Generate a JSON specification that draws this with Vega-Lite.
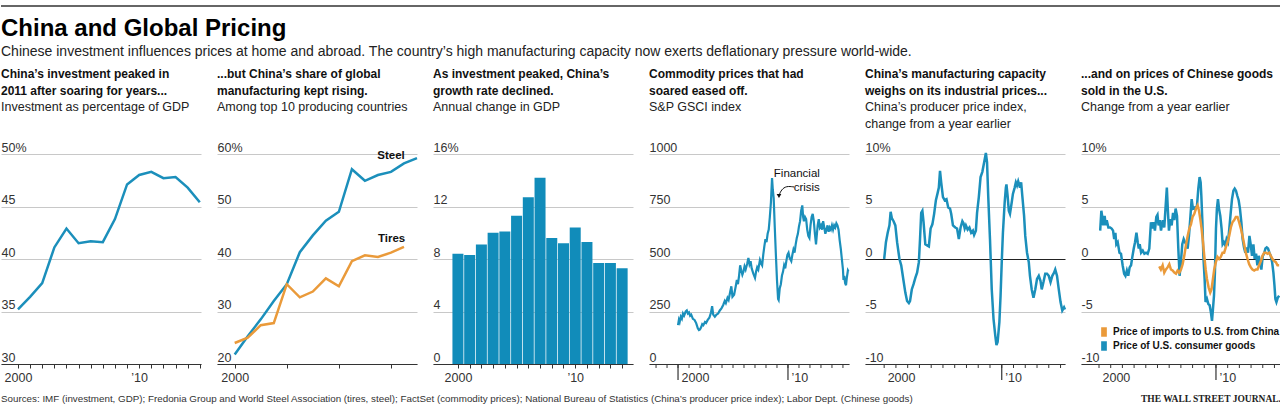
{
"$schema": "https://vega.github.io/schema/vega-lite/v6.json",
"padding": {"left": 0, "top": 5, "right": 0, "bottom": 0},
"background": "white",
"spacing": 8,
"config": {
  "font": "Liberation Sans, Arial, sans-serif",
  "view": {"stroke": null},
  "axis": {"labelFont": "Liberation Sans, Arial, sans-serif", "labelFontSize": 12.5, "labelColor": "#333", "title": null},
  "axisX": {"labelOverlap": false, "labelFlush": false},
  "title": {"anchor": "start", "frame": "group", "font": "Liberation Sans, Arial, sans-serif", "fontSize": 12, "fontWeight": "bold", "color": "#111", "lineHeight": 17, "subtitleFont": "Liberation Sans, Arial, sans-serif", "subtitleFontSize": 12.5, "subtitleColor": "#222", "subtitleLineHeight": 17, "subtitlePadding": 0, "offset": 10},
  "legend": {"labelFont": "Liberation Sans, Arial, sans-serif"}
},
"datasets": {
  "inv": [{"t":2000,"v":35.2},{"t":2001,"v":36.4},{"t":2002,"v":37.7},{"t":2003,"v":41.1},{"t":2004,"v":42.9},{"t":2005,"v":41.5},{"t":2006,"v":41.7},{"t":2007,"v":41.6},{"t":2008,"v":43.8},{"t":2009,"v":47.1},{"t":2010,"v":48.0},{"t":2011,"v":48.3},{"t":2012,"v":47.7},{"t":2013,"v":47.8},{"t":2014,"v":46.8},{"t":2015,"v":45.4}],
  "share": [
    {"t":2000,"v":21.8,"s":"Steel"},{"t":2001,"v":25.3,"s":"Steel"},{"t":2002,"v":28.5,"s":"Steel"},{"t":2003,"v":32.0,"s":"Steel"},{"t":2004,"v":35.2,"s":"Steel"},{"t":2005,"v":41.3,"s":"Steel"},{"t":2006,"v":44.5,"s":"Steel"},{"t":2007,"v":47.3,"s":"Steel"},{"t":2008,"v":49.0,"s":"Steel"},{"t":2009,"v":57.1,"s":"Steel"},{"t":2010,"v":54.9,"s":"Steel"},{"t":2011,"v":56.0,"s":"Steel"},{"t":2012,"v":56.6,"s":"Steel"},{"t":2013,"v":58.2,"s":"Steel"},{"t":2014,"v":59.2,"s":"Steel"},
    {"t":2000,"v":24.0,"s":"Tires"},{"t":2001,"v":25.0,"s":"Tires"},{"t":2002,"v":27.4,"s":"Tires"},{"t":2003,"v":27.8,"s":"Tires"},{"t":2004,"v":35.2,"s":"Tires"},{"t":2005,"v":32.7,"s":"Tires"},{"t":2006,"v":33.8,"s":"Tires"},{"t":2007,"v":36.3,"s":"Tires"},{"t":2008,"v":34.8,"s":"Tires"},{"t":2009,"v":39.6,"s":"Tires"},{"t":2010,"v":40.7,"s":"Tires"},{"t":2011,"v":40.4,"s":"Tires"},{"t":2012,"v":41.2,"s":"Tires"},{"t":2013,"v":42.3,"s":"Tires"}],
  "gdp": [{"t":2000,"v":8.4},{"t":2001,"v":8.3},{"t":2002,"v":9.1},{"t":2003,"v":10.0},{"t":2004,"v":10.1},{"t":2005,"v":11.3},{"t":2006,"v":12.7},{"t":2007,"v":14.2},{"t":2008,"v":9.6},{"t":2009,"v":9.2},{"t":2010,"v":10.4},{"t":2011,"v":9.3},{"t":2012,"v":7.7},{"t":2013,"v":7.7},{"t":2014,"v":7.3}],
  "gsci": [{"t":2000.00,"v":185},{"t":2000.08,"v":210},{"t":2000.15,"v":200},{"t":2000.25,"v":225},{"t":2000.35,"v":215},{"t":2000.45,"v":240},{"t":2000.55,"v":230},{"t":2000.70,"v":250},{"t":2000.80,"v":255},{"t":2000.90,"v":240},{"t":2001.00,"v":245},{"t":2001.10,"v":230},{"t":2001.20,"v":235},{"t":2001.35,"v":215},{"t":2001.50,"v":210},{"t":2001.65,"v":195},{"t":2001.80,"v":170},{"t":2001.90,"v":162},{"t":2002.00,"v":165},{"t":2002.10,"v":175},{"t":2002.20,"v":190},{"t":2002.30,"v":185},{"t":2002.45,"v":200},{"t":2002.55,"v":195},{"t":2002.70,"v":210},{"t":2002.85,"v":220},{"t":2003.00,"v":245},{"t":2003.10,"v":275},{"t":2003.20,"v":235},{"t":2003.35,"v":225},{"t":2003.50,"v":235},{"t":2003.65,"v":240},{"t":2003.80,"v":255},{"t":2003.95,"v":265},{"t":2004.10,"v":280},{"t":2004.25,"v":300},{"t":2004.35,"v":290},{"t":2004.50,"v":315},{"t":2004.60,"v":305},{"t":2004.75,"v":345},{"t":2004.85,"v":370},{"t":2004.95,"v":320},{"t":2005.10,"v":330},{"t":2005.25,"v":370},{"t":2005.35,"v":400},{"t":2005.45,"v":380},{"t":2005.55,"v":420},{"t":2005.65,"v":470},{"t":2005.75,"v":445},{"t":2005.85,"v":425},{"t":2005.95,"v":440},{"t":2006.05,"v":465},{"t":2006.15,"v":450},{"t":2006.30,"v":480},{"t":2006.40,"v":505},{"t":2006.50,"v":475},{"t":2006.60,"v":490},{"t":2006.70,"v":455},{"t":2006.85,"v":430},{"t":2007.00,"v":410},{"t":2007.10,"v":440},{"t":2007.20,"v":460},{"t":2007.30,"v":450},{"t":2007.45,"v":495},{"t":2007.55,"v":480},{"t":2007.65,"v":470},{"t":2007.75,"v":520},{"t":2007.85,"v":560},{"t":2007.95,"v":595},{"t":2008.05,"v":580},{"t":2008.15,"v":620},{"t":2008.25,"v":640},{"t":2008.35,"v":700},{"t":2008.45,"v":770},{"t":2008.55,"v":885},{"t":2008.62,"v":830},{"t":2008.70,"v":790},{"t":2008.80,"v":650},{"t":2008.90,"v":520},{"t":2009.00,"v":400},{"t":2009.10,"v":310},{"t":2009.15,"v":305},{"t":2009.25,"v":360},{"t":2009.35,"v":380},{"t":2009.45,"v":420},{"t":2009.55,"v":440},{"t":2009.65,"v":470},{"t":2009.75,"v":455},{"t":2009.85,"v":490},{"t":2009.95,"v":520},{"t":2010.05,"v":530},{"t":2010.15,"v":505},{"t":2010.30,"v":490},{"t":2010.40,"v":520},{"t":2010.50,"v":545},{"t":2010.60,"v":530},{"t":2010.70,"v":570},{"t":2010.80,"v":600},{"t":2010.90,"v":620},{"t":2011.00,"v":655},{"t":2011.10,"v":680},{"t":2011.20,"v":730},{"t":2011.30,"v":755},{"t":2011.38,"v":700},{"t":2011.45,"v":680},{"t":2011.55,"v":700},{"t":2011.65,"v":690},{"t":2011.75,"v":640},{"t":2011.85,"v":610},{"t":2011.95,"v":600},{"t":2012.05,"v":660},{"t":2012.15,"v":700},{"t":2012.25,"v":715},{"t":2012.35,"v":680},{"t":2012.45,"v":620},{"t":2012.55,"v":570},{"t":2012.60,"v":600},{"t":2012.70,"v":660},{"t":2012.80,"v":690},{"t":2012.90,"v":650},{"t":2013.00,"v":660},{"t":2013.10,"v":640},{"t":2013.20,"v":680},{"t":2013.30,"v":650},{"t":2013.40,"v":620},{"t":2013.50,"v":640},{"t":2013.60,"v":660},{"t":2013.70,"v":630},{"t":2013.80,"v":650},{"t":2013.90,"v":640},{"t":2014.00,"v":660},{"t":2014.10,"v":640},{"t":2014.20,"v":660},{"t":2014.30,"v":650},{"t":2014.40,"v":670},{"t":2014.50,"v":660},{"t":2014.60,"v":640},{"t":2014.70,"v":590},{"t":2014.80,"v":550},{"t":2014.90,"v":500},{"t":2015.00,"v":450},{"t":2015.05,"v":400},{"t":2015.12,"v":420},{"t":2015.20,"v":385},{"t":2015.28,"v":375},{"t":2015.35,"v":410},{"t":2015.45,"v":445},{"t":2015.50,"v":440}],
  "ppi": [{"t":2000.00,"v":0},{"t":2000.15,"v":1.6},{"t":2000.30,"v":2.5},{"t":2000.45,"v":3.2},{"t":2000.55,"v":4.5},{"t":2000.65,"v":3.9},{"t":2000.80,"v":3.6},{"t":2000.95,"v":3.2},{"t":2001.10,"v":1.6},{"t":2001.30,"v":0},{"t":2001.45,"v":-0.6},{"t":2001.65,"v":-2.1},{"t":2001.80,"v":-3.2},{"t":2001.95,"v":-4.0},{"t":2002.10,"v":-4.2},{"t":2002.20,"v":-4.0},{"t":2002.35,"v":-2.9},{"t":2002.50,"v":-2.4},{"t":2002.65,"v":-1.8},{"t":2002.80,"v":-1.3},{"t":2002.95,"v":-0.3},{"t":2003.05,"v":1.9},{"t":2003.15,"v":4.4},{"t":2003.25,"v":4.6},{"t":2003.35,"v":3.5},{"t":2003.50,"v":1.4},{"t":2003.65,"v":1.3},{"t":2003.80,"v":1.2},{"t":2003.95,"v":2.9},{"t":2004.10,"v":3.3},{"t":2004.25,"v":4.3},{"t":2004.40,"v":5.6},{"t":2004.55,"v":6.3},{"t":2004.65,"v":6.8},{"t":2004.75,"v":8.4},{"t":2004.85,"v":7.3},{"t":2005.00,"v":5.9},{"t":2005.15,"v":5.6},{"t":2005.30,"v":5.7},{"t":2005.45,"v":4.9},{"t":2005.60,"v":4.8},{"t":2005.70,"v":4.3},{"t":2005.85,"v":3.2},{"t":2006.05,"v":3.0},{"t":2006.20,"v":2.9},{"t":2006.35,"v":1.9},{"t":2006.50,"v":3.0},{"t":2006.65,"v":3.6},{"t":2006.75,"v":3.4},{"t":2006.85,"v":2.9},{"t":2006.95,"v":3.2},{"t":2007.10,"v":2.8},{"t":2007.25,"v":3.0},{"t":2007.40,"v":2.5},{"t":2007.55,"v":2.7},{"t":2007.65,"v":2.3},{"t":2007.80,"v":2.7},{"t":2007.90,"v":4.4},{"t":2008.05,"v":5.9},{"t":2008.20,"v":7.8},{"t":2008.35,"v":8.3},{"t":2008.50,"v":9.2},{"t":2008.65,"v":10.1},{"t":2008.75,"v":9.2},{"t":2008.85,"v":6.0},{"t":2009.00,"v":1.9},{"t":2009.15,"v":-2.9},{"t":2009.30,"v":-5.7},{"t":2009.45,"v":-7.3},{"t":2009.55,"v":-8.2},{"t":2009.65,"v":-7.9},{"t":2009.80,"v":-6.0},{"t":2009.90,"v":-3.5},{"t":2010.00,"v":-0.3},{"t":2010.10,"v":2.5},{"t":2010.25,"v":5.4},{"t":2010.35,"v":6.8},{"t":2010.40,"v":7.1},{"t":2010.50,"v":6.0},{"t":2010.60,"v":4.6},{"t":2010.70,"v":4.3},{"t":2010.85,"v":5.4},{"t":2010.95,"v":6.2},{"t":2011.10,"v":6.8},{"t":2011.20,"v":7.3},{"t":2011.30,"v":7.0},{"t":2011.40,"v":7.4},{"t":2011.55,"v":6.8},{"t":2011.65,"v":7.3},{"t":2011.75,"v":6.0},{"t":2011.90,"v":4.1},{"t":2012.00,"v":2.2},{"t":2012.15,"v":0.6},{"t":2012.30,"v":-0.3},{"t":2012.40,"v":-1.6},{"t":2012.55,"v":-2.9},{"t":2012.70,"v":-3.7},{"t":2012.85,"v":-2.9},{"t":2013.00,"v":-1.9},{"t":2013.15,"v":-1.6},{"t":2013.30,"v":-2.1},{"t":2013.40,"v":-2.9},{"t":2013.55,"v":-2.2},{"t":2013.70,"v":-1.4},{"t":2013.85,"v":-1.4},{"t":2014.00,"v":-1.6},{"t":2014.15,"v":-2.2},{"t":2014.30,"v":-1.6},{"t":2014.45,"v":-1.3},{"t":2014.55,"v":-1.0},{"t":2014.70,"v":-1.6},{"t":2014.85,"v":-2.9},{"t":2015.00,"v":-4.1},{"t":2015.15,"v":-4.9},{"t":2015.30,"v":-4.6},{"t":2015.38,"v":-4.8}],
  "cg": [
    {"t":2000.10,"v":2.7,"s":"b"},{"t":2000.20,"v":4.6,"s":"b"},{"t":2000.28,"v":4.0,"s":"b"},{"t":2000.36,"v":3.2,"s":"b"},{"t":2000.48,"v":4.1,"s":"b"},{"t":2000.58,"v":3.2,"s":"b"},{"t":2000.66,"v":3.7,"s":"b"},{"t":2000.80,"v":3.0,"s":"b"},{"t":2000.95,"v":3.0,"s":"b"},{"t":2001.08,"v":2.9,"s":"b"},{"t":2001.20,"v":2.7,"s":"b"},{"t":2001.30,"v":1.9,"s":"b"},{"t":2001.40,"v":2.5,"s":"b"},{"t":2001.48,"v":1.4,"s":"b"},{"t":2001.60,"v":1.6,"s":"b"},{"t":2001.75,"v":0.6,"s":"b"},{"t":2001.88,"v":0.5,"s":"b"},{"t":2002.02,"v":-0.6,"s":"b"},{"t":2002.15,"v":-1.4,"s":"b"},{"t":2002.26,"v":-1.6,"s":"b"},{"t":2002.38,"v":-1.1,"s":"b"},{"t":2002.50,"v":-1.6,"s":"b"},{"t":2002.62,"v":-0.8,"s":"b"},{"t":2002.74,"v":-0.6,"s":"b"},{"t":2002.85,"v":0.2,"s":"b"},{"t":2002.97,"v":1.0,"s":"b"},{"t":2003.08,"v":1.6,"s":"b"},{"t":2003.20,"v":2.5,"s":"b"},{"t":2003.31,"v":1.6,"s":"b"},{"t":2003.40,"v":1.0,"s":"b"},{"t":2003.48,"v":1.4,"s":"b"},{"t":2003.60,"v":0.6,"s":"b"},{"t":2003.74,"v":0.8,"s":"b"},{"t":2003.88,"v":0.5,"s":"b"},{"t":2004.02,"v":0.6,"s":"b"},{"t":2004.16,"v":0.5,"s":"b"},{"t":2004.30,"v":1.0,"s":"b"},{"t":2004.44,"v":3.5,"s":"b"},{"t":2004.55,"v":2.9,"s":"b"},{"t":2004.66,"v":3.5,"s":"b"},{"t":2004.78,"v":2.7,"s":"b"},{"t":2004.90,"v":4.0,"s":"b"},{"t":2005.00,"v":4.2,"s":"b"},{"t":2005.09,"v":3.2,"s":"b"},{"t":2005.20,"v":3.7,"s":"b"},{"t":2005.30,"v":2.7,"s":"b"},{"t":2005.38,"v":3.2,"s":"b"},{"t":2005.46,"v":3.7,"s":"b"},{"t":2005.58,"v":3.0,"s":"b"},{"t":2005.66,"v":4.4,"s":"b"},{"t":2005.80,"v":6.8,"s":"b"},{"t":2005.88,"v":4.8,"s":"b"},{"t":2005.98,"v":2.7,"s":"b"},{"t":2006.10,"v":3.8,"s":"b"},{"t":2006.21,"v":3.2,"s":"b"},{"t":2006.33,"v":4.4,"s":"b"},{"t":2006.44,"v":3.7,"s":"b"},{"t":2006.55,"v":4.8,"s":"b"},{"t":2006.67,"v":4.1,"s":"b"},{"t":2006.78,"v":1.0,"s":"b"},{"t":2006.89,"v":-1.6,"s":"b"},{"t":2007.00,"v":-0.3,"s":"b"},{"t":2007.12,"v":1.4,"s":"b"},{"t":2007.24,"v":1.9,"s":"b"},{"t":2007.35,"v":1.6,"s":"b"},{"t":2007.46,"v":1.4,"s":"b"},{"t":2007.58,"v":1.0,"s":"b"},{"t":2007.69,"v":2.2,"s":"b"},{"t":2007.80,"v":3.8,"s":"b"},{"t":2007.92,"v":5.7,"s":"b"},{"t":2008.03,"v":4.8,"s":"b"},{"t":2008.15,"v":4.9,"s":"b"},{"t":2008.26,"v":4.8,"s":"b"},{"t":2008.38,"v":5.1,"s":"b"},{"t":2008.49,"v":6.7,"s":"b"},{"t":2008.60,"v":7.8,"s":"b"},{"t":2008.69,"v":7.3,"s":"b"},{"t":2008.75,"v":6.0,"s":"b"},{"t":2008.84,"v":3.5,"s":"b"},{"t":2008.92,"v":0.3,"s":"b"},{"t":2009.03,"v":-1.9,"s":"b"},{"t":2009.11,"v":-4.1,"s":"b"},{"t":2009.23,"v":-3.8,"s":"b"},{"t":2009.35,"v":-4.3,"s":"b"},{"t":2009.46,"v":-4.4,"s":"b"},{"t":2009.57,"v":-5.1,"s":"b"},{"t":2009.66,"v":-5.9,"s":"b"},{"t":2009.74,"v":-4.8,"s":"b"},{"t":2009.83,"v":-3.5,"s":"b"},{"t":2009.91,"v":-1.3,"s":"b"},{"t":2010.00,"v":2.9,"s":"b"},{"t":2010.08,"v":4.8,"s":"b"},{"t":2010.17,"v":5.7,"s":"b"},{"t":2010.26,"v":4.8,"s":"b"},{"t":2010.37,"v":4.1,"s":"b"},{"t":2010.48,"v":2.9,"s":"b"},{"t":2010.57,"v":1.4,"s":"b"},{"t":2010.68,"v":1.6,"s":"b"},{"t":2010.80,"v":1.3,"s":"b"},{"t":2010.91,"v":1.9,"s":"b"},{"t":2011.03,"v":1.6,"s":"b"},{"t":2011.14,"v":2.9,"s":"b"},{"t":2011.26,"v":4.4,"s":"b"},{"t":2011.37,"v":5.7,"s":"b"},{"t":2011.49,"v":6.5,"s":"b"},{"t":2011.60,"v":6.7,"s":"b"},{"t":2011.71,"v":6.5,"s":"b"},{"t":2011.83,"v":6.0,"s":"b"},{"t":2011.94,"v":5.6,"s":"b"},{"t":2012.05,"v":4.8,"s":"b"},{"t":2012.17,"v":3.5,"s":"b"},{"t":2012.28,"v":1.9,"s":"b"},{"t":2012.40,"v":1.1,"s":"b"},{"t":2012.51,"v":0.6,"s":"b"},{"t":2012.63,"v":1.1,"s":"b"},{"t":2012.74,"v":0.6,"s":"b"},{"t":2012.86,"v":2.2,"s":"b"},{"t":2012.97,"v":1.4,"s":"b"},{"t":2013.08,"v":0.3,"s":"b"},{"t":2013.20,"v":1.4,"s":"b"},{"t":2013.31,"v":0,"s":"b"},{"t":2013.43,"v":0.5,"s":"b"},{"t":2013.54,"v":-0.6,"s":"b"},{"t":2013.66,"v":0.3,"s":"b"},{"t":2013.77,"v":-0.3,"s":"b"},{"t":2013.88,"v":-1.0,"s":"b"},{"t":2014.00,"v":0.3,"s":"b"},{"t":2014.11,"v":0.5,"s":"b"},{"t":2014.23,"v":1.0,"s":"b"},{"t":2014.34,"v":1.1,"s":"b"},{"t":2014.45,"v":1.0,"s":"b"},{"t":2014.57,"v":0.6,"s":"b"},{"t":2014.68,"v":0.3,"s":"b"},{"t":2014.80,"v":-0.3,"s":"b"},{"t":2014.91,"v":-1.3,"s":"b"},{"t":2015.00,"v":-2.5,"s":"b"},{"t":2015.08,"v":-3.8,"s":"b"},{"t":2015.17,"v":-4.1,"s":"b"},{"t":2015.28,"v":-3.7,"s":"b"},{"t":2015.40,"v":-3.5,"s":"b"},
    {"t":2005.15,"v":-0.7,"s":"o"},{"t":2005.29,"v":-1.0,"s":"o"},{"t":2005.44,"v":-0.6,"s":"o"},{"t":2005.58,"v":-1.3,"s":"o"},{"t":2005.72,"v":-1.0,"s":"o"},{"t":2005.86,"v":-0.8,"s":"o"},{"t":2006.01,"v":-0.5,"s":"o"},{"t":2006.15,"v":-1.0,"s":"o"},{"t":2006.29,"v":-1.1,"s":"o"},{"t":2006.44,"v":-1.3,"s":"o"},{"t":2006.58,"v":-1.4,"s":"o"},{"t":2006.72,"v":-1.1,"s":"o"},{"t":2006.86,"v":-1.3,"s":"o"},{"t":2007.01,"v":-1.0,"s":"o"},{"t":2007.15,"v":-0.5,"s":"o"},{"t":2007.29,"v":0.3,"s":"o"},{"t":2007.43,"v":1.3,"s":"o"},{"t":2007.58,"v":2.2,"s":"o"},{"t":2007.72,"v":2.9,"s":"o"},{"t":2007.86,"v":3.3,"s":"o"},{"t":2008.00,"v":4.0,"s":"o"},{"t":2008.15,"v":4.3,"s":"o"},{"t":2008.29,"v":4.8,"s":"o"},{"t":2008.43,"v":5.1,"s":"o"},{"t":2008.55,"v":4.6,"s":"o"},{"t":2008.66,"v":3.8,"s":"o"},{"t":2008.77,"v":2.9,"s":"o"},{"t":2008.89,"v":1.6,"s":"o"},{"t":2009.00,"v":0.3,"s":"o"},{"t":2009.12,"v":-1.0,"s":"o"},{"t":2009.23,"v":-1.9,"s":"o"},{"t":2009.37,"v":-2.7,"s":"o"},{"t":2009.51,"v":-3.2,"s":"o"},{"t":2009.62,"v":-2.9,"s":"o"},{"t":2009.74,"v":-1.9,"s":"o"},{"t":2009.85,"v":-1.0,"s":"o"},{"t":2009.99,"v":-0.3,"s":"o"},{"t":2010.13,"v":0.2,"s":"o"},{"t":2010.27,"v":0,"s":"o"},{"t":2010.41,"v":0.2,"s":"o"},{"t":2010.56,"v":0.6,"s":"o"},{"t":2010.70,"v":0.6,"s":"o"},{"t":2010.84,"v":1.1,"s":"o"},{"t":2010.99,"v":1.6,"s":"o"},{"t":2011.13,"v":2.2,"s":"o"},{"t":2011.27,"v":3.0,"s":"o"},{"t":2011.41,"v":3.5,"s":"o"},{"t":2011.56,"v":3.7,"s":"o"},{"t":2011.70,"v":4.0,"s":"o"},{"t":2011.84,"v":4.0,"s":"o"},{"t":2011.98,"v":3.5,"s":"o"},{"t":2012.13,"v":2.9,"s":"o"},{"t":2012.27,"v":2.2,"s":"o"},{"t":2012.41,"v":1.4,"s":"o"},{"t":2012.55,"v":0.6,"s":"o"},{"t":2012.70,"v":0,"s":"o"},{"t":2012.84,"v":-0.5,"s":"o"},{"t":2012.98,"v":-0.8,"s":"o"},{"t":2013.12,"v":-1.0,"s":"o"},{"t":2013.27,"v":-1.1,"s":"o"},{"t":2013.41,"v":-1.0,"s":"o"},{"t":2013.55,"v":-1.0,"s":"o"},{"t":2013.69,"v":-0.6,"s":"o"},{"t":2013.84,"v":-0.2,"s":"o"},{"t":2013.98,"v":0.3,"s":"o"},{"t":2014.12,"v":0.6,"s":"o"},{"t":2014.27,"v":0.6,"s":"o"},{"t":2014.41,"v":0.5,"s":"o"},{"t":2014.55,"v":0.6,"s":"o"},{"t":2014.69,"v":0.3,"s":"o"},{"t":2014.84,"v":0,"s":"o"},{"t":2014.98,"v":-0.2,"s":"o"},{"t":2015.12,"v":-0.3,"s":"o"},{"t":2015.26,"v":-0.6,"s":"o"},{"t":2015.40,"v":-0.6,"s":"o"}],
  "yearsA": [{"t":1998},{"t":1999},{"t":2000},{"t":2001},{"t":2002},{"t":2003},{"t":2004},{"t":2005},{"t":2006},{"t":2007},{"t":2008},{"t":2009},{"t":2010},{"t":2011},{"t":2012},{"t":2013},{"t":2014},{"t":2015}],
  "yearsB": [{"t":2000},{"t":2001},{"t":2002},{"t":2003},{"t":2004},{"t":2005},{"t":2006},{"t":2007},{"t":2008},{"t":2009},{"t":2010},{"t":2011},{"t":2012},{"t":2013},{"t":2014},{"t":2015}]
},
"vconcat": [
  {
    "width": 1280, "height": 1,
    "data": {"values": [{"r": 0}]},
    "mark": {"type": "rule", "color": "#666", "strokeWidth": 2},
    "encoding": {"y": {"field": "r", "type": "quantitative", "axis": null, "scale": {"domain": [0, 1]}}},
    "title": {"text": "China and Global Pricing", "subtitle": "Chinese investment influences prices at home and abroad. The country’s high manufacturing capacity now exerts deflationary pressure world-wide.", "orient": "bottom", "anchor": "start", "fontSize": 24, "lineHeight": 28, "color": "#000", "subtitleFontSize": 14, "subtitleLineHeight": 16, "subtitlePadding": 4, "offset": 10}
  },
  {
    "spacing": 16,
    "bounds": "flush",
    "resolve": {"scale": {"color": "independent"}, "legend": {"color": "independent"}},
    "hconcat": [
      {
        "width": 200, "height": 210,
        "title": {"text": ["China’s investment peaked in", "2011 after soaring for years..."], "subtitle": ["Investment as percentage of GDP", " "]},
        "data": {"name": "inv"},
        "mark": {"type": "line", "color": "#1b8fbb", "strokeWidth": 2.5},
        "encoding": {
          "x": {"field": "t", "type": "quantitative", "scale": {"domain": [1998.6, 2015.1], "nice": false, "zero": false},
                "axis": {"values": [2000,2001,2002,2003,2004,2005,2006,2007,2008,2009,2010,2011,2012,2013,2014,2015], "labelExpr": "datum.value == 2000 ? '2000' : datum.value == 2010 ? '’10' : ''", "grid": false, "domain": true, "domainColor": "#333", "ticks": true, "tickColor": "#333", "tickSize": 4, "labelPadding": 3, "labelFlush": false, "labelOverlap": false}},
          "y": {"field": "v", "type": "quantitative", "scale": {"domain": [30, 50], "nice": false, "zero": false},
                "axis": {"values": [30,35,40,45,50], "labelExpr": "datum.value == 50 ? '50%' : '' + datum.value", "grid": true, "gridColor": "#c8c8c8", "domain": false, "ticks": false, "tickSize": 0, "labelAlign": "left", "labelBaseline": "alphabetic", "labelPadding": 0, "labelOffset": -3}}
        }
      },
      {
        "width": 200, "height": 210,
        "title": {"text": ["...but China’s share of global", "manufacturing kept rising."], "subtitle": ["Among top 10 producing countries", " "]},
        "layer": [
          {
            "data": {"name": "share"},
            "mark": {"type": "line", "strokeWidth": 2.5},
            "encoding": {
              "x": {"field": "t", "type": "quantitative", "scale": {"domain": [1998.64, 2014], "nice": false, "zero": false},
                    "axis": {"values": [2000,2001,2002,2003,2004,2005,2006,2007,2008,2009,2010,2011,2012,2013,2014], "labelExpr": "datum.value == 2000 ? '2000' : datum.value == 2010 ? '’10' : ''", "grid": false, "domain": true, "domainColor": "#333", "ticks": true, "tickColor": "#333", "tickSize": 4, "labelPadding": 3, "labelFlush": false, "labelOverlap": false}},
              "y": {"field": "v", "type": "quantitative", "scale": {"domain": [20, 60], "nice": false, "zero": false},
                    "axis": {"values": [20,30,40,50,60], "labelExpr": "datum.value == 60 ? '60%' : '' + datum.value", "grid": true, "gridColor": "#c8c8c8", "domain": false, "ticks": false, "tickSize": 0, "labelAlign": "left", "labelBaseline": "alphabetic", "labelPadding": 0, "labelOffset": -3}},
              "color": {"field": "s", "type": "nominal", "scale": {"domain": ["Steel", "Tires"], "range": ["#1b8fbb", "#ea9a3a"]}, "legend": null}
            }
          },
          {
            "data": {"values": [{"t": 2010.95, "v": 59.6, "lab": "Steel"}, {"t": 2011.0, "v": 43.8, "lab": "Tires"}]},
            "mark": {"type": "text", "align": "left", "baseline": "middle", "fontWeight": "bold", "fontSize": 11.5, "color": "#111"},
            "encoding": {"x": {"field": "t", "type": "quantitative"}, "y": {"field": "v", "type": "quantitative"}, "text": {"field": "lab"}}
          }
        ]
      },
      {
        "width": 200, "height": 210,
        "title": {"text": ["As investment peaked, China’s", "growth rate declined."], "subtitle": ["Annual change in GDP", " "]},
        "data": {"name": "gdp"},
        "mark": {"type": "bar", "color": "#118cba", "size": 11, "orient": "vertical"},
        "encoding": {
          "x": {"field": "t", "type": "quantitative", "scale": {"domain": [1998.3, 2014.5], "nice": false, "zero": false},
                "axis": {"values": [2000,2001,2002,2003,2004,2005,2006,2007,2008,2009,2010,2011,2012,2013,2014], "labelExpr": "datum.value == 2000 ? '2000' : datum.value == 2010 ? '’10' : ''", "grid": false, "domain": true, "domainColor": "#333", "ticks": true, "tickColor": "#333", "tickSize": 4, "labelPadding": 3, "labelFlush": false, "labelOverlap": false}},
          "y": {"field": "v", "type": "quantitative", "scale": {"domain": [0, 16], "nice": false},
                "axis": {"values": [0,4,8,12,16], "labelExpr": "datum.value == 16 ? '16%' : '' + datum.value", "grid": true, "gridColor": "#c8c8c8", "domain": false, "ticks": false, "tickSize": 0, "labelAlign": "left", "labelBaseline": "alphabetic", "labelPadding": 0, "labelOffset": -3}}
        }
      },
      {
        "width": 200, "height": 210,
        "title": {"text": ["Commodity prices that had", "soared eased off."], "subtitle": ["S&P GSCI index", " "]},
        "layer": [
          {
            "data": {"name": "gsci"},
            "mark": {"type": "line", "color": "#1b8fbb", "strokeWidth": 2.2},
            "encoding": {
              "x": {"field": "t", "type": "quantitative", "scale": {"domain": [1997.36, 2015.55], "nice": false, "zero": false},
                    "axis": {"values": [2000, 2010], "labelExpr": "datum.value == 2000 ? '2000' : '’10'", "grid": false, "domain": true, "domainColor": "#333", "ticks": false, "tickSize": 0, "labelAlign": "left", "labelOffset": 3, "labelPadding": 7, "labelFlush": false, "labelOverlap": false}},
              "y": {"field": "v", "type": "quantitative", "scale": {"domain": [0, 1000], "nice": false},
                    "axis": {"values": [0,250,500,750,1000], "grid": true, "gridColor": "#c8c8c8", "domain": false, "ticks": false, "tickSize": 0, "labelAlign": "left", "labelBaseline": "alphabetic", "labelPadding": 0, "labelOffset": -3, "labelExpr": "'' + datum.value"}}
            }
          },
          {
            "data": {"name": "yearsA"},
            "mark": {"type": "rule", "color": "#333", "strokeWidth": 1},
            "encoding": {"x": {"field": "t", "type": "quantitative"}, "y": {"datum": 0}, "y2": {"datum": -19}}
          },
          {
            "data": {"values": [{"t": 2000}, {"t": 2010}]},
            "mark": {"type": "rule", "color": "#333", "strokeWidth": 1.2},
            "encoding": {"x": {"field": "t", "type": "quantitative"}, "y": {"datum": 0}, "y2": {"datum": -76}}
          },
          {
            "data": {"values": [{"t": 2012.9, "v": 905, "lab": "Financial\ncrisis"}]},
            "mark": {"type": "text", "align": "right", "baseline": "middle", "fontSize": 11.5, "lineHeight": 14, "lineBreak": "\n", "color": "#111"},
            "encoding": {"x": {"field": "t", "type": "quantitative"}, "y": {"field": "v", "type": "quantitative"}, "text": {"field": "lab"}}
          },
          {
            "data": {"values": [{"t": 2010.55, "v": 843}, {"t": 2009.85, "v": 848}, {"t": 2009.4, "v": 830}, {"t": 2009.2, "v": 805}]},
            "mark": {"type": "line", "color": "#111", "strokeWidth": 1, "interpolate": "basis"},
            "encoding": {"x": {"field": "t", "type": "quantitative"}, "y": {"field": "v", "type": "quantitative"}}
          },
          {
            "data": {"values": [{"t": 2009.18, "v": 800}]},
            "mark": {"type": "point", "shape": "triangle-down", "filled": true, "color": "#111", "size": 22, "opacity": 1},
            "encoding": {"x": {"field": "t", "type": "quantitative"}, "y": {"field": "v", "type": "quantitative"}}
          }
        ]
      },
      {
        "width": 200, "height": 210,
        "title": {"text": ["China’s manufacturing capacity", "weighs on its industrial prices..."], "subtitle": ["China’s producer price index,", "change from a year earlier"]},
        "layer": [
          {
            "data": {"name": "ppi"},
            "mark": {"type": "line", "color": "#1b8fbb", "strokeWidth": 2.5},
            "encoding": {
              "x": {"field": "t", "type": "quantitative", "scale": {"domain": [1998.37, 2015.38], "nice": false, "zero": false},
                    "axis": {"values": [2000, 2010], "labelExpr": "datum.value == 2000 ? '2000' : '’10'", "grid": false, "domain": true, "domainColor": "#333", "ticks": false, "tickSize": 0, "labelAlign": "left", "labelOffset": 3, "labelPadding": 7, "labelFlush": false, "labelOverlap": false}},
              "y": {"field": "v", "type": "quantitative", "scale": {"domain": [-10, 10], "nice": false},
                    "axis": {"values": [-10,-5,0,5,10], "labelExpr": "datum.value == 10 ? '10%' : '' + datum.value", "grid": true, "gridColor": {"condition": {"test": "datum.value == 0", "value": "#222"}, "value": "#c8c8c8"}, "domain": false, "ticks": false, "tickSize": 0, "labelAlign": "left", "labelBaseline": "alphabetic", "labelPadding": 0, "labelOffset": -3}}
            }
          },
          {
            "data": {"name": "yearsB"},
            "mark": {"type": "rule", "color": "#333", "strokeWidth": 1},
            "encoding": {"x": {"field": "t", "type": "quantitative"}, "y": {"datum": -10}, "y2": {"datum": -10.38}}
          },
          {
            "data": {"values": [{"t": 2010}]},
            "mark": {"type": "rule", "color": "#333", "strokeWidth": 1.2},
            "encoding": {"x": {"field": "t", "type": "quantitative"}, "y": {"datum": -10}, "y2": {"datum": -11.52}}
          }
        ]
      },
      {
        "width": 200, "height": 210,
        "title": {"text": ["...and on prices of Chinese goods", "sold in the U.S."], "subtitle": ["Change from a year earlier", " "]},
        "layer": [
          {
            "data": {"name": "cg"},
            "mark": {"type": "line", "strokeWidth": 2.5},
            "encoding": {
              "x": {"field": "t", "type": "quantitative", "scale": {"domain": [1998.46, 2015.56], "nice": false, "zero": false},
                    "axis": {"values": [2000, 2010], "labelExpr": "datum.value == 2000 ? '2000' : '’10'", "grid": false, "domain": true, "domainColor": "#333", "ticks": false, "tickSize": 0, "labelAlign": "left", "labelOffset": 3, "labelPadding": 7, "labelFlush": false, "labelOverlap": false}},
              "y": {"field": "v", "type": "quantitative", "scale": {"domain": [-10, 10], "nice": false},
                    "axis": {"values": [-10,-5,0,5,10], "labelExpr": "datum.value == 10 ? '10%' : '' + datum.value", "grid": true, "gridColor": {"condition": {"test": "datum.value == 0", "value": "#222"}, "value": "#c8c8c8"}, "domain": false, "ticks": false, "tickSize": 0, "labelAlign": "left", "labelBaseline": "alphabetic", "labelPadding": 0, "labelOffset": -3}},
              "color": {"field": "s", "type": "nominal", "scale": {"domain": ["o", "b"], "range": ["#ea9a3a", "#1b8fbb"]},
                        "legend": {"title": null, "orient": "none", "legendX": 18, "legendY": 173, "symbolType": "M-0.6,-1H0.6V1H-0.6Z", "symbolSize": 90, "symbolStrokeWidth": 0, "labelFontSize": 10, "labelFontWeight": "bold", "labelColor": "#111", "rowPadding": 4, "labelOffset": 4, "labelLimit": 300,
                                   "labelExpr": "datum.label == 'o' ? 'Price of imports to U.S. from China' : 'Price of U.S. consumer goods'",
                                   "encode": {"symbols": {"update": {"fill": {"signal": "datum.value == 'o' ? '#ea9a3a' : '#1b8fbb'"}, "fillOpacity": {"value": 1}}}}}}
            }
          },
          {
            "data": {"name": "yearsB"},
            "mark": {"type": "rule", "color": "#333", "strokeWidth": 1},
            "encoding": {"x": {"field": "t", "type": "quantitative"}, "y": {"datum": -10}, "y2": {"datum": -10.38}}
          },
          {
            "data": {"values": [{"t": 2010}]},
            "mark": {"type": "rule", "color": "#333", "strokeWidth": 1.2},
            "encoding": {"x": {"field": "t", "type": "quantitative"}, "y": {"datum": -10}, "y2": {"datum": -11.52}}
          }
        ]
      }
    ]
  },
  {
    "width": 1280, "height": 14,
    "data": {"values": [{"src": "Sources: IMF (investment, GDP); Fredonia Group and World Steel Association (tires, steel); FactSet (commodity prices); National Bureau of Statistics (China’s producer price index); Labor Dept. (Chinese goods)", "wsj": "THE WALL STREET JOURNAL."}]},
    "layer": [
      {"mark": {"type": "text", "align": "left", "baseline": "middle", "fontSize": 9.8, "color": "#333"},
       "encoding": {"text": {"field": "src"}, "x": {"datum": 0, "type": "quantitative", "scale": {"domain": [0, 1]}, "axis": null}}},
      {"mark": {"type": "text", "align": "right", "baseline": "middle", "font": "Liberation Serif, DejaVu Serif, serif", "fontSize": 9.5, "fontWeight": "bold", "color": "#222"},
       "encoding": {"text": {"field": "wsj"}, "x": {"datum": 1, "type": "quantitative", "scale": {"domain": [0, 1]}, "axis": null}}}
    ]
  }
]
}
